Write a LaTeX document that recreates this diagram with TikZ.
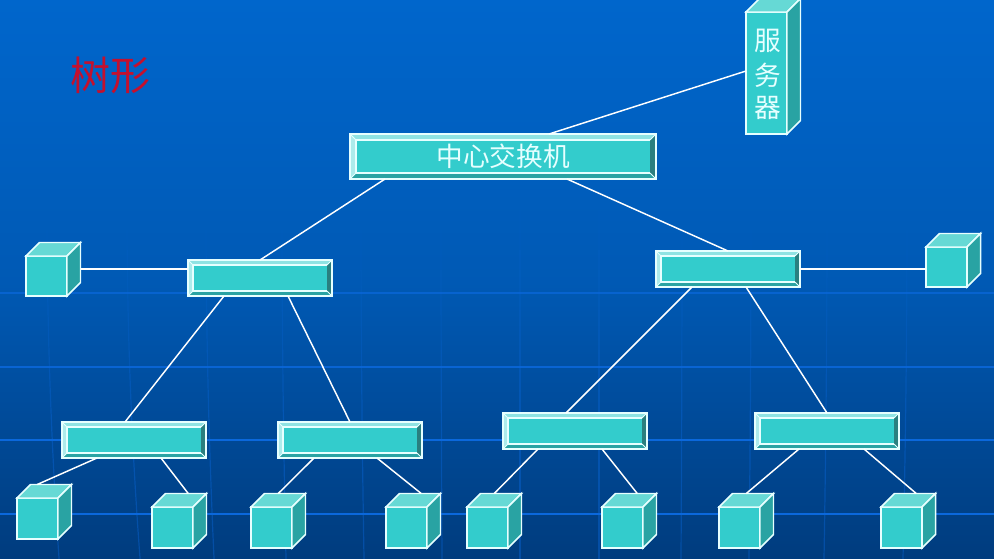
\documentclass[tikz,border=0pt]{standalone}
\usepackage{fontspec}
\newfontfamily\cjk{Noto Sans CJK SC}
\usetikzlibrary{calc}
\definecolor{bgtop}{HTML}{0066CC}
\definecolor{bgbot}{HTML}{003C7E}
\definecolor{gridc}{HTML}{0B68DC}
\definecolor{boxc}{HTML}{33CCCC}
\definecolor{edgec}{HTML}{E6FFFF}
\definecolor{toplt}{HTML}{66D9D5}
\definecolor{sidec}{HTML}{29A3A3}
\definecolor{darkb}{HTML}{2A7F7F}
\definecolor{midb}{HTML}{29A3A3}
\definecolor{titlec}{HTML}{C4102E}
\tikzset{
  wire/.style={draw=white,line width=1.1pt},
  outl/.style={draw=edgec,line width=1.1pt,line join=miter},
  facebox/.style={rectangle,fill=boxc,draw=edgec,line width=1.1pt,inner sep=0pt,outer sep=0pt,text=edgec,font=\cjk\fontsize{20}{24}\selectfont},
  gridh/.style={draw=gridc,line width=1.5pt},
  gridv/.style={draw=gridc,line width=.9pt}
}
% bevelled switch: name, centre x, centre y, width, height, text, bevel
\newcommand{\bevelsw}[7]{%
  \node[facebox,minimum width=#4*0.75pt,minimum height=#5*0.75pt] (#1) at (#2,#3) {};
  \fill[boxc!55!white] (#1.south west) -- ++(#7,-#7) |- ($(#1.north east)+(-#7,#7)$) -- (#1.north east) -| cycle;
  \fill[darkb] (#1.north east) -- ++(-#7,#7) |- ($(#1.south east)+(-#7,-#7)$) -- (#1.south east) -- cycle;
  \fill[midb] (#1.south west) -- ++(#7,-#7) -| ($(#1.south east)+(-#7,-#7)$) -- (#1.south east) -- cycle;
  \fill[boxc!40!white] (#1.south west) -- ++(#7,-#7) |- ($(#1.north west)+(#7,#7)$) -- (#1.north west) -- cycle;
  \fill[boxc] ($(#1.south west)+(#7,-#7)$) rectangle ($(#1.north east)+(-#7,#7)$);
  \draw[edgec,line width=.9pt] ($(#1.south west)+(#7,-#7)$) -- ($(#1.south east)+(-#7,-#7)$) ($(#1.north east)+(-#7,#7)$) -- ($(#1.north west)+(#7,#7)$) -- ($(#1.south west)+(#7,-#7)$);
  \draw[edgec,line width=.7pt] (#1.south west) -- ++(#7,-#7) (#1.south east) -- ++(-#7,-#7) (#1.north west) -- ++(#7,#7) (#1.north east) -- ++(-#7,#7);
  \draw[outl] (#1.south west) rectangle (#1.north east);
  \node[text=edgec,font=\cjk\fontsize{20}{24}\selectfont] at (#1) {#6};
}
% cube: name, front left x, front top y, front width, front height
\newcommand{\cubeb}[5]{%
  \node[facebox,minimum width=#4*0.75pt,minimum height=#5*0.75pt,anchor=north west] (#1) at (#2,#3) {};
  \filldraw[outl,fill=toplt] (#1.north west) -- ++(13.5,-13.5) -- ($(#1.north east)+(13.5,-13.5)$) -- (#1.north east) -- cycle;
  \filldraw[outl,fill=sidec] (#1.north east) -- ++(13.5,-13.5) -- ($(#1.south east)+(13.5,-13.5)$) -- (#1.south east) -- cycle;
  \coordinate (#1top) at ($(#1.north)+(6.75,-13.5)$);
}
\begin{document}
\begin{tikzpicture}[x=0.75pt,y=-0.75pt]
\useasboundingbox (0,0) rectangle (994,558);
\shade[top color=bgtop,bottom color=bgbot,middle color=bgtop!70!bgbot,shading angle=0] (0,0) rectangle (994,558);
% background globe
\foreach \xa/\lean in {47/12,127/13,206/8,282/4,361/3,441/1,520/0,599/0,682/-1,751/-2,827/-3,907/-4}{
  \foreach \ya in {210,230,...,550}{
    \pgfmathsetmacro{\yb}{\ya+20}
    \pgfmathsetmacro{\pa}{\xa+\lean*((\ya-210)/348)^2}
    \pgfmathsetmacro{\pb}{\xa+\lean*((\yb-210)/348)^2}
    \pgfmathsetmacro{\op}{min(.4,(\ya-210)/348*.6+.04)}
    \draw[gridv,opacity=\op] (\pa,\ya) -- (\pb,\yb);
  }
}
\foreach \yy/\op in {293/.7,367/.85,440/1,514/1}{\draw[gridh,opacity=\op] (0,\yy) -- (994,\yy);}
% nodes
\cubeb{srv}{746}{12}{41}{122}
\node[text=edgec,font=\cjk\fontsize{20}{24}\selectfont] (fu) at (768,41) {服};
\node[text=edgec,font=\cjk\fontsize{20}{24}\selectfont] (wu) at (768,75) {务};
\node[text=edgec,font=\cjk\fontsize{20}{24}\selectfont] (qi) at (768,108) {器};
\bevelsw{cen}{503}{156.5}{306}{45}{中心交换机}{6}
\bevelsw{swl}{260}{278}{144}{36}{}{5}
\bevelsw{swr}{728}{269}{144}{36}{}{5}
\bevelsw{swll}{134}{440}{144}{36}{}{5}
\bevelsw{swlr}{350}{440}{144}{36}{}{5}
\bevelsw{swrl}{575}{431}{144}{36}{}{5}
\bevelsw{swrr}{827}{431}{144}{36}{}{5}
\cubeb{cul}{26}{256}{41}{40}
\cubeb{cur}{926}{247}{41}{40}
\cubeb{ca}{17}{498}{41}{41}
\cubeb{cb}{152}{507}{41}{41}
\cubeb{cc}{251}{507}{41}{41}
\cubeb{cd}{386}{507}{41}{41}
\cubeb{ce}{467}{507}{41}{41}
\cubeb{cf}{602}{507}{41}{41}
\cubeb{cg}{719}{507}{41}{41}
\cubeb{ch}{881}{507}{41}{41}
% connectors
\draw[wire] ($(cen.north)+(46,0)$) -- ($(srv.west)+(0,-2)$);
\draw[wire] ($(cen.south)+(-118,0)$) -- (swl.north);
\draw[wire] ($(cen.south)+(64,0)$) -- (swr.north);
\draw[wire] ($(cul.east)+(13.5,-7)$) -- ($(swl.west)+(0,-9)$);
\draw[wire] (swr.east) -- ($(cur.west)+(0,2)$);
\draw[wire] ($(swl.south)+(-36,0)$) -- ($(swll.north)+(-9,0)$);
\draw[wire] ($(swl.south)+(28,0)$) -- (swlr.north);
\draw[wire] ($(swr.south)+(-36,0)$) -- ($(swrl.north)+(-9,0)$);
\draw[wire] ($(swr.south)+(18,0)$) -- (swrr.north);
\draw[wire] ($(swll.south)+(-37,0)$) -- ($(catop)+(-7,0)$);
\draw[wire] ($(swll.south)+(27,0)$) -- ($(cbtop)+(9,0)$);
\draw[wire] ($(swlr.south)+(-36,0)$) -- (cctop);
\draw[wire] ($(swlr.south)+(27,0)$) -- ($(cdtop)+(8,0)$);
\draw[wire] ($(swrl.south)+(-37,0)$) -- (cetop);
\draw[wire] ($(swrl.south)+(27,0)$) -- ($(cftop)+(8,0)$);
\draw[wire] ($(swrr.south)+(-28,0)$) -- (cgtop);
\draw[wire] ($(swrr.south)+(37,0)$) -- ($(chtop)+(8,0)$);
\node[text=titlec,font=\cjk\fontsize{30}{36}\selectfont] (title) at (110,75) {树形};
\end{tikzpicture}
\end{document}
